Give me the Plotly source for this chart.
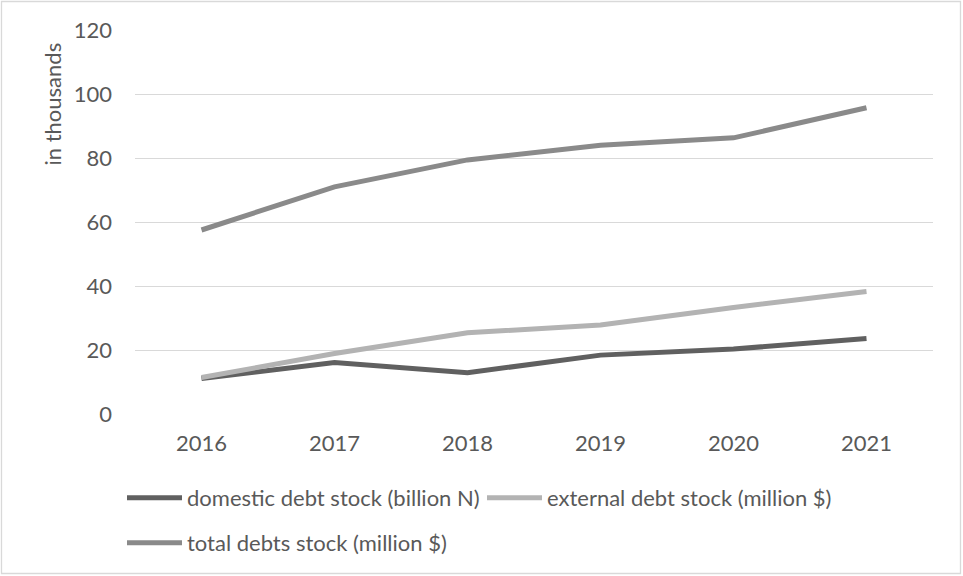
import plotly.graph_objects as go

years = ["2016", "2017", "2018", "2019", "2020", "2021"]
domestic = [11.1, 16.1, 12.9, 18.4, 20.3, 23.6]
external = [11.4, 18.9, 25.4, 27.8, 33.3, 38.3]
total = [57.5, 71.0, 79.4, 84.0, 86.3, 95.7]

names = ["domestic debt stock (billion N)", "external debt stock (million $)", "total debts stock (million $)"]
colors = ["#606060", "#b3b3b3", "#8a8a8a"]

FONT = "Lato"
FS = 22
TXT = "#595959"
W, H = 963, 576
L, R, T, B = 135, 30, 30, 162
pw, ph = W - L - R, H - T - B

fig = go.Figure()
fig.add_trace(go.Scatter(x=years, y=domestic, name=names[0], mode="lines",
                         line=dict(color=colors[0], width=5), legend="legend"))
fig.add_trace(go.Scatter(x=years, y=external, name=names[1], mode="lines",
                         line=dict(color=colors[1], width=5), legend="legend"))
fig.add_trace(go.Scatter(x=years, y=total, name=names[2], mode="lines",
                         line=dict(color=colors[2], width=5), legend="legend2"))

legend_common = dict(orientation="h", xanchor="left", yanchor="middle",
                     font=dict(family=FONT, size=FS, color=TXT),
                     bgcolor="rgba(0,0,0,0)", itemwidth=55, entrywidth=290,
                     itemclick=False, itemdoubleclick=False)

fig.update_layout(
    width=W, height=H,
    margin=dict(l=L, r=R, t=T, b=B),
    paper_bgcolor="white", plot_bgcolor="white",
    font=dict(family=FONT, size=FS, color=TXT),
    showlegend=True,
    legend=dict(x=(122 - L) / pw, y=(H - B - 498) / ph, **legend_common),
    legend2=dict(x=(122 - L) / pw, y=(H - B - 543) / ph, **legend_common),
    xaxis=dict(type="category", range=[-0.5, 5.5], showgrid=False, zeroline=False,
               showline=False, ticks="", ticklabelstandoff=14,
               tickfont=dict(family=FONT, size=FS, color=TXT)),
    yaxis=dict(range=[0, 120], tick0=0, dtick=20, showgrid=True, gridcolor="#d9d9d9",
               gridwidth=1.3, zeroline=False, showline=False, ticks="",
               ticklabelstandoff=22, tickfont=dict(family=FONT, size=FS, color=TXT)),
    annotations=[dict(text="in thousands", textangle=-90, xref="paper", yref="paper",
                      x=(52 - L) / pw, y=(H - B - 41) / ph, xanchor="center", yanchor="top",
                      showarrow=False, font=dict(family=FONT, size=FS, color=TXT))],
    shapes=[dict(type="rect", xref="paper", yref="paper",
                 x0=(1.5 - L) / pw, x1=(W - 2.5 - L) / pw,
                 y0=(H - B - (H - 2.5)) / ph, y1=(H - B - 1.5) / ph,
                 line=dict(color="#d9d9d9", width=1.3), layer="below")],
)

fig.write_html("out.html")
